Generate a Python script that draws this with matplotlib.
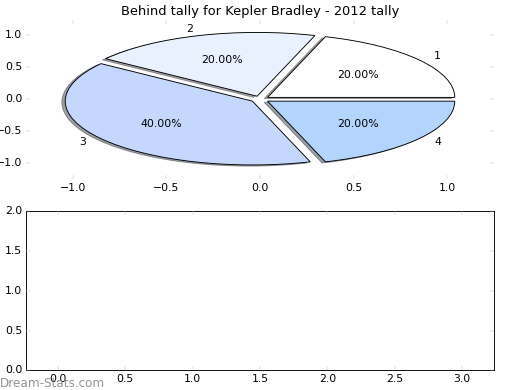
import matplotlib
matplotlib.use("Agg")
import matplotlib.pyplot as plt

plt.style.use("classic")
plt.rcParams.update({
    "font.family": "DejaVu Sans",
    "font.size": 12,
    "xtick.color": "#bbbbbb",
    "ytick.color": "#bbbbbb",
    "xtick.labelcolor": "black",
    "ytick.labelcolor": "black",
})

# data
slice_labels = ["1", "2", "3", "4"]
slice_values = [20, 20, 40, 20]
slice_colors = ["#ffffff", "#e9f0fe", "#c5d7fc", "#b3d4fd"]
explode = [0.05, 0.05, 0.05, 0.05]
title = "Behind tally for Kepler Bradley - 2012 tally"

fig, (ax1, ax2) = plt.subplots(2, 1, figsize=(8, 6), dpi=65)
fig.subplots_adjust(left=0.05, right=0.95, top=0.95, bottom=0.05, hspace=0.2)

# top: exploded pie, stretched to the axes
ax1.pie(slice_values, labels=slice_labels, colors=slice_colors, explode=explode,
        autopct="%.2f%%", shadow=True, frame=True,
        wedgeprops={"edgecolor": "black", "linewidth": 1})
ax1.set_aspect("auto")
ax1.set_xlim(-1.25, 1.25)
ax1.set_ylim(-1.25, 1.25)
ax1.set_xticks([-1.0, -0.5, 0.0, 0.5, 1.0])
ax1.set_yticks([-1.0, -0.5, 0.0, 0.5, 1.0])
for s in ax1.spines.values():
    s.set_visible(False)
ax1.set_title(title)

# bottom: empty axes
ax2.set_xlim(-0.235, 3.235)
ax2.set_ylim(0, 2.0)
ax2.set_xticks([0.0, 0.5, 1.0, 1.5, 2.0, 2.5, 3.0])
ax2.set_yticks([0.0, 0.5, 1.0, 1.5, 2.0])

fig.text(0.0, 0.008, "Dream-Stats.com", color="#888888", alpha=0.9, fontsize=13.3)

fig.savefig("out.png", dpi=65)
